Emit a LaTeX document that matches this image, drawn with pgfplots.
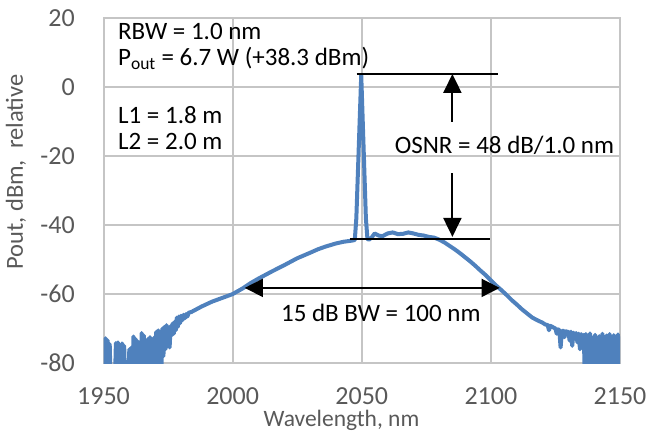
\documentclass[border=0pt]{standalone}
\usepackage{fontspec}
\setmainfont{Carlito}
\usepackage{pgfplots}
\pgfplotsset{compat=1.18}
\usetikzlibrary{arrows.meta}
\definecolor{gridc}{RGB}{197,197,197}
\definecolor{linec}{RGB}{79,129,189}
\definecolor{txt}{RGB}{89,89,89}

\pgfplotstableread{
x y
1950.0 -73.0
1950.4 -86
1950.8 -72.8
1951.2 -86
1951.6 -73.4
1952.0 -86
1952.4 -74.5
1952.8 -86
1954.4 -86
1954.8 -74.2
1955.2 -86
1955.6 -74.0
1956.0 -86
1956.4 -74.8
1956.8 -86
1957.2 -74.3
1957.6 -86
1958.0 -75.0
1958.4 -86
1959.6 -86
1960.0 -76.0
1960.4 -86
1960.8 -75.5
1961.2 -86
1961.6 -72.3
1962.0 -86
1962.4 -73.0
1962.8 -86
1963.2 -73.7
1963.6 -86
1964.0 -74.0
1964.4 -86
1964.8 -71.3
1965.2 -86
1965.6 -72.0
1966.0 -86
1966.4 -73.5
1966.8 -86
1967.2 -73.0
1967.6 -86
1968.0 -72.5
1968.4 -86
1968.8 -73.8
1969.2 -86
1969.6 -72.6
1970.0 -86
1970.4 -71.0
1970.8 -86
1971.2 -70.5
1971.6 -84
1972.0 -71.2
1972.4 -82
1972.8 -70.0
1973.2 -78
1973.6 -69.5
1974.0 -76
1974.4 -69.0
1974.8 -74
1975.2 -69.8
1975.6 -75.5
1976.0 -69.3
1976.4 -72
1976.8 -68.5
1977.2 -71.5
1977.6 -68.0
1978.0 -70.5
1978.4 -66.8
1978.8 -69.5
1979.2 -66.5
1979.6 -68.5
1980.0 -66.3
1980.5 -67.6
1981.0 -66.0
1981.5 -67.0
1982.0 -65.8
1982.5 -66.5
1983.0 -65.4
1984.0 -65.2
1985.0 -64.8
1988.0 -63.6
1992.0 -62.2
1996.0 -61.1
2000.0 -60.0
2004.0 -58.3
2007.0 -56.8
2010.0 -55.5
2015.0 -53.5
2020.0 -51.6
2025.0 -49.6
2030.0 -48.0
2033.0 -47.0
2036.0 -46.2
2040.0 -45.3
2043.0 -44.8
2046.0 -44.5
2047.3 -44.3
2047.9 -38.0
2049.8 3.6
2051.6 -38.0
2052.2 -44.0
2052.8 -44.2
2053.8 -43.6
2055.0 -42.4
2056.5 -43.0
2058.0 -43.2
2060.0 -42.4
2062.0 -42.1
2064.0 -42.6
2066.0 -42.5
2068.0 -42.1
2070.0 -42.4
2072.0 -42.8
2074.0 -43.0
2076.0 -43.4
2078.0 -43.6
2080.0 -44.2
2082.0 -45.0
2084.0 -46.0
2086.0 -47.0
2088.0 -48.1
2090.0 -49.3
2092.0 -50.5
2094.0 -51.8
2096.0 -53.2
2098.0 -54.5
2100.0 -56.0
2102.0 -57.5
2104.0 -58.8
2106.0 -60.2
2108.0 -61.7
2110.0 -63.0
2112.0 -64.4
2114.0 -65.6
2116.0 -66.8
2118.0 -67.6
2120.0 -68.3
2121.0 -68.8
2122.0 -69.0
2122.5 -70.5
2123.0 -69.2
2124.0 -69.6
2125.0 -70.0
2125.5 -71.5
2126.0 -70.2
2126.5 -70.5
2127.0 -75.5
2127.5 -70.8
2128.0 -70.6
2128.5 -72.5
2129.0 -70.8
2130.0 -71.0
2130.5 -73.5
2131.0 -70.9
2131.5 -75.0
2132.0 -71.2
2132.5 -72.5
2133.0 -71.3
2133.5 -74.0
2134.0 -71.5
2134.5 -76.0
2135.0 -71.6
2135.5 -74.0
2136.0 -71.8
2136.4 -86
2136.8 -71.6
2137.2 -86
2137.6 -72.0
2138.0 -86
2138.4 -71.4
2138.8 -86
2139.2 -86
2139.6 -72.5
2140.0 -86
2140.4 -71.8
2140.8 -86
2141.2 -73.0
2141.6 -86
2142.0 -72.2
2142.4 -86
2142.8 -86
2143.2 -71.5
2143.6 -86
2144.0 -72.8
2144.4 -86
2144.8 -72.0
2145.2 -86
2145.6 -86
2146.0 -71.6
2146.4 -86
2146.8 -72.4
2147.2 -86
2147.6 -71.9
2148.0 -86
2148.4 -72.6
2148.8 -86
2149.2 -71.7
2149.6 -86
2150.0 -72.3
}\spectrum

\begin{document}
\begin{tikzpicture}[x=1pt,y=1pt]
\useasboundingbox (0,0) rectangle (652,433);
\begin{axis}[
  at={(103.5pt,70pt)}, anchor=south west,
  scale only axis, width=516.5pt, height=344.5pt,
  xmin=1950, xmax=2150, ymin=-80, ymax=20,
  xtick={1950,2000,2050,2100,2150},
  xticklabels={1950,2000,2050,2100,2150},
  ytick={-80,-60,-40,-20,0,20},
  yticklabels={-80,-60,-40,-20,0,20},
  grid=major,
  major grid style={gridc, line width=2pt},
  axis line style={gridc, line width=2pt},
  major tick length=0pt,
  tick label style={font=\fontsize{26}{30}\selectfont, text=txt},
  xticklabel style={anchor=base, inner sep=0pt, yshift=-41.7pt},
  yticklabel style={anchor=east, inner sep=0pt, xshift=-28.5pt},
  xlabel={Wavelength, nm},
  ylabel={Pout, dBm,\ \ relative},
  label style={text=txt, inner sep=0pt},
  xlabel style={font=\fontsize{23.5}{27}\selectfont, at={(axis description cs:0.4608,-0.185)}, anchor=base},
  ylabel style={font=\fontsize{24.5}{28}\selectfont, at={(axis description cs:-0.1694,0.554)}, anchor=center},
]
\addplot[linec, line width=4pt, line join=round, no markers] table[x=x,y=y] {\spectrum};

\draw[line width=2pt] (axis cs:2048,3.9) -- (axis cs:2102.6,3.9);
\draw[line width=2pt, -{Triangle[length=19pt,width=18pt]}] (axis cs:2085.1,-9.9) -- (axis cs:2085.1,3.9);
\draw[line width=2pt, -{Triangle[length=19pt,width=18pt]}] (axis cs:2085.1,-24.9) -- (axis cs:2085.1,-43.4);
\draw[line width=2pt] (axis cs:2045.5,-44.1) -- (axis cs:2099.5,-44.1);
\draw[line width=1.6pt, {Triangle[length=18pt,width=18pt]}-{Triangle[length=18pt,width=18pt]}] (axis cs:2004.7,-58.2) -- (axis cs:2103.4,-58.2);

\begin{scope}[every node/.style={anchor=west, inner sep=0pt, font=\fontsize{25}{29}\selectfont}]
\node at (axis cs:1955.6,16.2) {RBW = 1.0 nm};
\node at (axis cs:1955.6,8.5) {P\textsubscript{out} = 6.7 W (+38.3 dBm)};
\node at (axis cs:1955.6,-8) {L1 = 1.8 m};
\node at (axis cs:1955.6,-15.7) {L2 = 2.0 m};
\node at (axis cs:2062.7,-16.7) {OSNR = 48 dB/1.0 nm};
\node at (axis cs:2018.7,-65.4) {15 dB BW = 100 nm};
\end{scope}
\end{axis}
\end{tikzpicture}
\end{document}
